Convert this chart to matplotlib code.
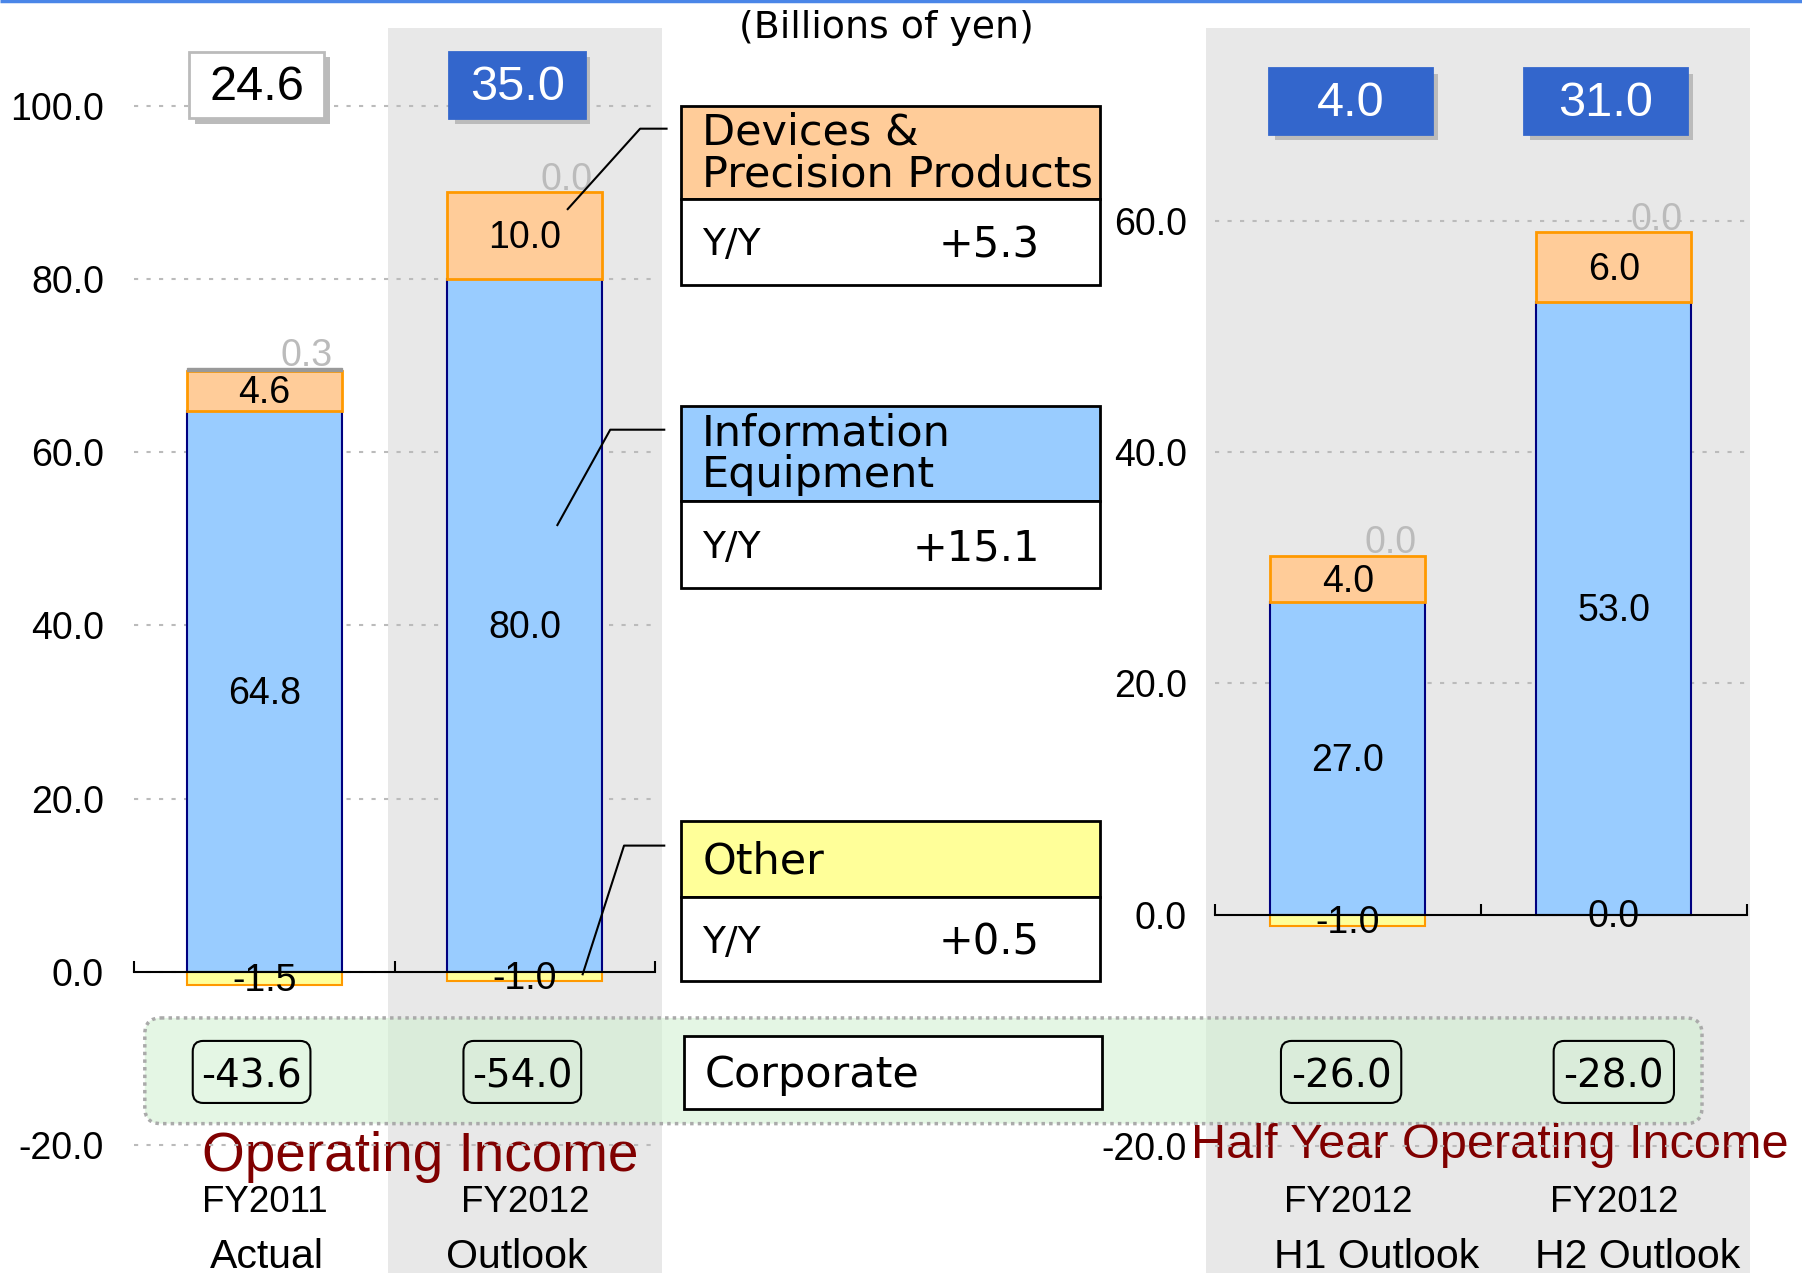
import matplotlib
matplotlib.use("Agg")
import matplotlib.pyplot as plt
from matplotlib.patches import Rectangle, FancyBboxPatch
from matplotlib.transforms import blended_transform_factory
import numpy as np

# ---------------- data ----------------
full_cats = ["FY2011", "FY2012"]
full_sub = ["Actual", "Outlook"]
full_info = [64.8, 80.0]
full_dev = [4.6, 10.0]
full_gray = [0.3, 0.0]
full_other = [-1.5, -1.0]
full_total = [24.6, 35.0]
full_corp = [-43.6, -54.0]

half_cats = ["FY2012", "FY2012"]
half_sub = ["H1 Outlook", "H2 Outlook"]
half_info = [27.0, 53.0]
half_dev = [4.0, 6.0]
half_gray = [0.0, 0.0]
half_other = [-1.0, 0.0]
half_total = [4.0, 31.0]
half_corp = [-26.0, -28.0]

left_ticks = [-20, 0, 20, 40, 60, 80, 100]
right_ticks = [-20, 0, 20, 40, 60]

seg_names = [["Devices &", "Precision Products"], ["Information", "Equipment"], ["Other"]]
seg_yoy = ["+5.3", "+15.1", "+0.5"]

# ---------------- style ----------------
C_INFO, C_INFO_E = "#99CCFF", "#000080"
C_DEV, C_DEV_E = "#FFCC99", "#FF9900"
C_OTH = "#FFFF99"
C_GRAY = "#999999"
C_BLUE = "#3366CC"
C_RED = "#800000"
NUM = "Liberation Sans"
TXT = "DejaVu Sans"

W, H = 1568, 1108
fig = plt.figure(figsize=(18.02, 12.73), dpi=100)
bg = fig.add_axes([0, 0, 1, 1], zorder=0)
bg.set_xlim(0, W)
bg.set_ylim(H, 0)
bg.axis("off")

top = fig.add_axes([0, 0, 1, 1], zorder=10)
top.set_xlim(0, W)
top.set_ylim(H, 0)
top.axis("off")
top.patch.set_alpha(0)

# top rule
bg.plot([0, W], [1, 1], color="#4A86E8", lw=2.5, solid_capstyle="butt")
# shaded columns
bg.add_patch(Rectangle((338, 24), 238, H - 24, fc="#E8E8E8", ec="none", zorder=1))
bg.add_patch(Rectangle((1049, 24), 474, H - 24, fc="#E8E8E8", ec="none", zorder=1))
# corporate band
bg.add_patch(FancyBboxPatch((126, 886), 1355, 92, boxstyle="round,pad=0,rounding_size=14",
                            fc="#CFF0CF", alpha=0.55, ec="none", zorder=2))
bg.add_patch(FancyBboxPatch((126, 886), 1355, 92, boxstyle="round,pad=0,rounding_size=14",
                            fc="none", ec="#AAAAAA", lw=2.5, ls=(0, (1, 1.2)), zorder=3))

bg.text(771, 24, "(Billions of yen)", ha="center", va="center", fontsize=27.3, family=TXT, zorder=5)

# legend boxes
heads = [(92, 173, 248, C_DEV), (353, 436, 512, C_INFO), (715, 781, 854, C_OTH)]
for (t, m, b, c), names, yoy in zip(heads, seg_names, seg_yoy):
    bg.add_patch(Rectangle((593, t), 364, m - t, fc=c, ec="black", lw=2, zorder=4))
    bg.add_patch(Rectangle((593, m), 364, b - m, fc="white", ec="black", lw=2, zorder=4))
    if len(names) == 2:
        bg.text(611, (t + m) / 2 - 17, names[0], ha="left", va="center", fontsize=31, family=TXT, zorder=5)
        bg.text(611, (t + m) / 2 + 19, names[1], ha="left", va="center", fontsize=31, family=TXT, zorder=5)
    else:
        bg.text(611, (t + m) / 2 + 2, names[0], ha="left", va="center", fontsize=31, family=TXT, zorder=5)
    bg.text(611, (m + b) / 2 + 3, "Y/Y", ha="left", va="center", fontsize=27, family=TXT, zorder=5)
    bg.text(905, (m + b) / 2 + 3, yoy, ha="right", va="center", fontsize=30, family=TXT, zorder=5)
bg.add_patch(Rectangle((595, 902), 364, 63, fc="white", ec="black", lw=2, zorder=4))
bg.text(613, 936, "Corporate", ha="left", va="center", fontsize=31, family=TXT, zorder=5)

# leader lines (on top of bars)
for xs, ys in [([580, 557, 494], [112, 112, 182]),
               ([578, 531, 485], [374, 374, 457]),
               ([578, 543, 507], [736, 736, 848])]:
    top.plot(xs, ys, color="black", lw=1.5, zorder=6)

# section titles
bg.text(366, 1007, "Operating Income", ha="center", va="center", fontsize=39.5, family=NUM, color=C_RED, zorder=5)
bg.text(1296, 997, "Half Year Operating Income", ha="center", va="center", fontsize=35, family=NUM, color=C_RED, zorder=5)


def panel(rect, ylim, ticks, pad, info, dev, gray, other, width, total, corp, cats, subs,
          tot_off, corp_off, sub_off, tot_y, corp_y, tot_w, total_blue):
    ax = fig.add_axes(rect, zorder=3)
    ax.patch.set_alpha(0)
    ax.set_xlim(-0.5, 1.5)
    ax.set_ylim(*ylim)
    ax.set_yticks(ticks)
    ax.set_yticklabels([f"{t:.1f}" for t in ticks], fontsize=27, family=NUM)
    ax.tick_params(axis="y", length=0, pad=pad)
    ax.set_xticks([-0.5, 0.5, 1.5])
    ax.set_xticklabels([])
    ax.tick_params(axis="x", direction="in", length=8, width=1.5, color="black")
    for s in ["left", "right", "top"]:
        ax.spines[s].set_visible(False)
    ax.spines["bottom"].set_position(("data", 0))
    ax.spines["bottom"].set_linewidth(1.5)
    ax.set_axisbelow(True)
    ax.yaxis.grid(True, color="#BBBBBB", lw=1.5, ls=(0, (2, 4)))
    x = np.arange(len(info))
    info = np.array(info); dev = np.array(dev); gray = np.array(gray); other = np.array(other)
    ax.bar(x, info, width, color=C_INFO, edgecolor=C_INFO_E, lw=1.5, zorder=2)
    ax.bar(x, dev, width, bottom=info, color=C_DEV, edgecolor=C_DEV_E, lw=2, zorder=2)
    ax.bar(x, gray, width, bottom=info + dev, color=C_GRAY, edgecolor=C_GRAY,
           lw=[1.0 if g else 0 for g in gray], zorder=2)
    ax.bar(x, other, width, color=C_OTH, edgecolor=C_DEV_E,
           lw=[1.5 if o else 0 for o in other], zorder=2)
    for i in x:
        ax.annotate(f"{info[i]:.1f}", (i, info[i] / 2), xytext=(0, -2), textcoords="offset points",
                    ha="center", va="center", fontsize=27, family=NUM, zorder=4)
        ax.annotate(f"{dev[i]:.1f}", (i, info[i] + dev[i] / 2), xytext=(0, -2), textcoords="offset points",
                    ha="center", va="center", fontsize=27, family=NUM, zorder=4)
        ax.annotate(f"{gray[i]:.1f}", (i + 0.16, info[i] + dev[i] + gray[i]), xytext=(0, 9),
                    textcoords="offset points", ha="center", va="center", fontsize=27,
                    family=NUM, color="#BBBBBB", zorder=4)
        ax.annotate(f"{other[i]:.1f}", (i, other[i] / 2), xytext=(0, -2), textcoords="offset points",
                    ha="center", va="center", fontsize=27, family=NUM, zorder=4)
    bt = blended_transform_factory(ax.transData, bg.transData)
    ppu = 1.0 / 230.0
    for i in x:
        # total box with shadow
        cx = i + tot_off[i]
        bw = tot_w
        ax.add_patch(Rectangle((cx - bw / 2 + 5 * ppu, tot_y + 5), bw, 58, transform=bt,
                               fc="#BBBBBB", ec="none", zorder=5, clip_on=False))
        fc, tc, ec = (C_BLUE, "white", C_BLUE) if total_blue[i] else ("white", "black", "#BBBBBB")
        ax.add_patch(Rectangle((cx - bw / 2, tot_y), bw, 58, transform=bt,
                               fc=fc, ec=ec, lw=2, zorder=6, clip_on=False))
        ax.text(cx, tot_y + 31, f"{total[i]:.1f}", transform=bt, ha="center", va="center",
                fontsize=35, family=NUM, color=tc, zorder=7, clip_on=False)
        # corporate box
        cc = i + corp_off[i]
        ax.add_patch(FancyBboxPatch((cc - 52 * ppu, corp_y - 27), 104 * ppu, 54, transform=bt,
                                    boxstyle="round,pad=0,rounding_size=0.04", mutation_aspect=230,
                                    fc="none", ec="black", lw=1.5, zorder=6, clip_on=False))
        ax.text(cc, corp_y + 4, f"{corp[i]:.1f}", transform=bt, ha="center", va="center",
                fontsize=28, family=TXT, zorder=7, clip_on=False)
        # category labels
        ax.text(i, 1047, cats[i], transform=bt, ha="center", va="center", fontsize=26.5, family=NUM,
                zorder=7, clip_on=False)
        ax.text(i + sub_off[i], 1094, subs[i], transform=bt, ha="center", va="center", fontsize=29.5,
                family=NUM, zorder=7, clip_on=False)
    return ax


axL = panel([117 / W, 0, (570 - 117) / W, 1], (-34.75, 112.2), left_ticks, 22,
            full_info, full_dev, full_gray, full_other, 0.595, full_total, full_corp,
            full_cats, full_sub, [-0.03, -0.03], [-0.05, -0.01], [0.01, -0.03], 45, 933,
            118 / 227.0, [False, True])
axR = panel([1057 / W, 0, (1520 - 1057) / W, 1], (-30.99, 79.07), right_ticks, 20,
            half_info, half_dev, half_gray, half_other, 0.582, half_total, half_corp,
            half_cats, half_sub, [0.01, -0.03], [-0.025, 0.0], [0.11, 0.09], 59, 933,
            142 / 232.0, [True, True])

fig.savefig("out.png", dpi=100)
